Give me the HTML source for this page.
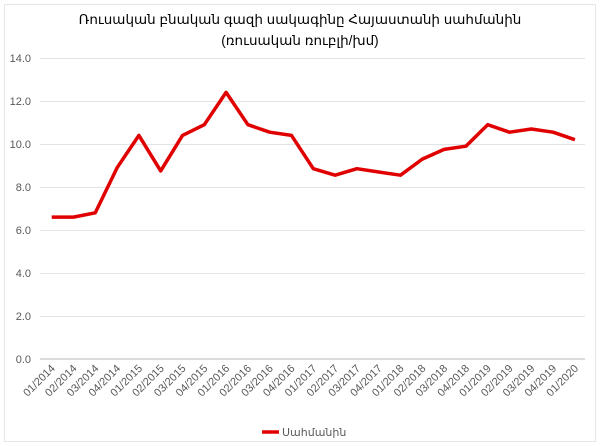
<!DOCTYPE html>
<html><head><meta charset="utf-8"><style>
html,body{margin:0;padding:0;background:#fff;}
svg{display:block;font-family:"Liberation Sans","DejaVu Sans",sans-serif;}
</style></head><body>
<svg width="600" height="446" viewBox="0 0 600 446" xmlns="http://www.w3.org/2000/svg">
<rect x="4.5" y="4.5" width="591" height="437" fill="#fff" stroke="#e6e6e6"/>
<text x="300" y="24" text-anchor="middle" font-size="13.5" fill="#000">Ռուսական բնական գազի սակագինը Հայաստանի սահմանին</text>
<text x="300" y="45" text-anchor="middle" font-size="13.5" fill="#000">(ռուսական ռուբլի/խմ)</text>
<g stroke="#e3e3e3" stroke-width="1">
<line x1="40" x2="585" y1="58.5" y2="58.5"/>
<line x1="40" x2="585" y1="101.5" y2="101.5"/>
<line x1="40" x2="585" y1="144.5" y2="144.5"/>
<line x1="40" x2="585" y1="187.5" y2="187.5"/>
<line x1="40" x2="585" y1="230.5" y2="230.5"/>
<line x1="40" x2="585" y1="273.5" y2="273.5"/>
<line x1="40" x2="585" y1="316.5" y2="316.5"/>
</g>
<line x1="40" x2="585" y1="359" y2="359" stroke="#d0d0d0" stroke-width="1.5"/>
<g font-size="11" fill="#595959" text-anchor="end">
<text x="31" y="62">14.0</text><text x="31" y="105">12.0</text><text x="31" y="148">10.0</text>
<text x="31" y="191">8.0</text><text x="31" y="234">6.0</text><text x="31" y="277">4.0</text>
<text x="31" y="320">2.0</text><text x="31" y="363">0.0</text>
</g>
<g font-size="11" fill="#595959" text-anchor="end">
<text transform="translate(55.7,369) rotate(-45)">01/2014</text>
<text transform="translate(77.5,369) rotate(-45)">02/2014</text>
<text transform="translate(99.3,369) rotate(-45)">03/2014</text>
<text transform="translate(121.1,369) rotate(-45)">04/2014</text>
<text transform="translate(142.9,369) rotate(-45)">01/2015</text>
<text transform="translate(164.7,369) rotate(-45)">02/2015</text>
<text transform="translate(186.5,369) rotate(-45)">03/2015</text>
<text transform="translate(208.3,369) rotate(-45)">04/2015</text>
<text transform="translate(230.1,369) rotate(-45)">01/2016</text>
<text transform="translate(251.9,369) rotate(-45)">02/2016</text>
<text transform="translate(273.7,369) rotate(-45)">03/2016</text>
<text transform="translate(295.5,369) rotate(-45)">04/2016</text>
<text transform="translate(317.3,369) rotate(-45)">01/2017</text>
<text transform="translate(339.1,369) rotate(-45)">02/2017</text>
<text transform="translate(360.9,369) rotate(-45)">03/2017</text>
<text transform="translate(382.7,369) rotate(-45)">04/2017</text>
<text transform="translate(404.5,369) rotate(-45)">01/2018</text>
<text transform="translate(426.3,369) rotate(-45)">02/2018</text>
<text transform="translate(448.1,369) rotate(-45)">03/2018</text>
<text transform="translate(469.9,369) rotate(-45)">04/2018</text>
<text transform="translate(491.7,369) rotate(-45)">01/2019</text>
<text transform="translate(513.5,369) rotate(-45)">02/2019</text>
<text transform="translate(535.3,369) rotate(-45)">03/2019</text>
<text transform="translate(557.1,369) rotate(-45)">04/2019</text>
<text transform="translate(578.9,369) rotate(-45)">01/2020</text>
</g>
<polyline fill="none" stroke="#e00000" stroke-width="3.5" stroke-linejoin="round" points="51.7,217.1 73.5,217.1 95.3,212.8 117.1,167.7 138.9,135.4 160.7,170.9 182.5,135.4 204.3,124.7 226.1,92.4 247.9,124.7 269.7,132.2 291.5,135.4 313.3,168.7 335.1,175.2 356.9,168.7 378.7,172 400.5,175.2 422.3,159.1 444.1,149.4 465.9,146.2 487.7,124.7 509.5,132.2 531.3,129 553.1,132.2 574.9,139.7"/>
<line x1="262" x2="279" y1="432" y2="432" stroke="#e00000" stroke-width="3.5"/>
<text x="282" y="436" font-size="11" fill="#595959">Սահմանին</text>
</svg>
</body></html>
